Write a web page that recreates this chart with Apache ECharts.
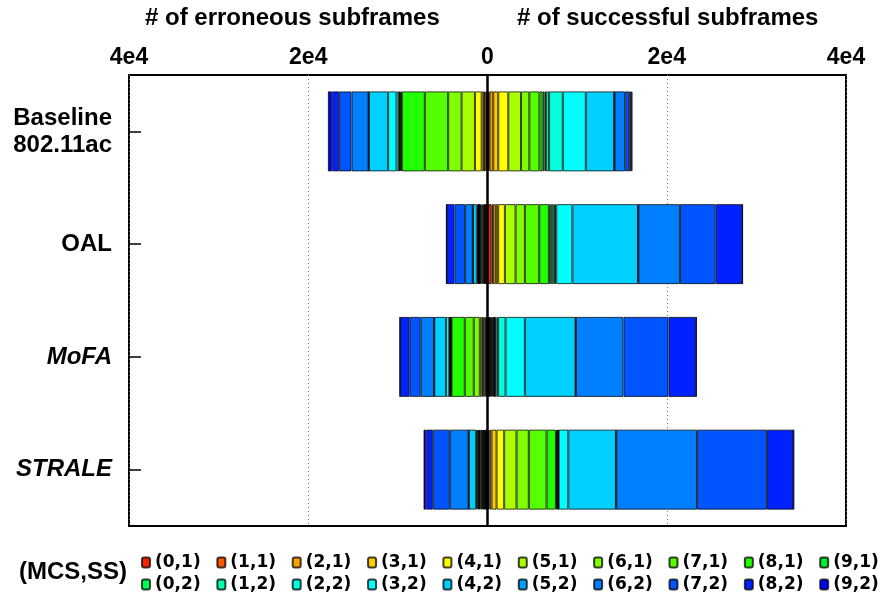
<!DOCTYPE html>
<html>
<head>
<meta charset="utf-8">
<script src="https://cdn.jsdelivr.net/npm/echarts@6/dist/echarts.min.js"></script>
<style>
html,body{margin:0;padding:0;background:#fff;}
#c{width:882px;height:602px;}
</style>
</head>
<body>
<div id="c"></div>
<script>
// ---- data ----
var categories = ['Baseline\n802.11ac', 'OAL', 'MoFA', 'STRALE'];
var mcsNames = ['(0,1)','(1,1)','(2,1)','(3,1)','(4,1)','(5,1)','(6,1)','(7,1)','(8,1)','(9,1)',
                '(0,2)','(1,2)','(2,2)','(3,2)','(4,2)','(5,2)','(6,2)','(7,2)','(8,2)','(9,2)'];
var xTicks = [-40000, -20000, 0, 20000, 40000];
// erroneous subframes per (MCS,SS), in the order of mcsNames
var baselineErr = [90,130,170,260,750,1490,1500,2600,2570,110,110,80,290,940,2150,30,1900,1380,780,480];
var oalErr      = [80,70,70,80,60,100,100,150,150,50,50,50,50,130,430,30,850,1190,880,30];
var mofaErr     = [100,100,120,170,150,220,670,1000,1490,60,60,60,60,370,1310,30,1480,1230,1080,40];
var straleErr   = [60,60,70,70,80,80,80,110,170,90,80,80,110,130,810,30,2090,1900,740,300];
// successful subframes per (MCS,SS)
var baselineOk  = [110,110,420,560,1120,1420,930,1120,360,220,170,330,1530,2570,3160,40,1190,450,220,150];
var oalOk       = [450,180,300,260,750,1190,1040,1600,1080,220,260,200,150,1790,7320,40,4650,3980,2980,40];
var mofaOk      = [60,60,70,80,100,110,110,100,80,45,170,200,830,2150,5660,40,5310,5020,3090,40];
var straleOk    = [100,120,230,560,850,1380,1370,1980,1040,110,80,70,50,1070,5320,40,9000,7810,2970,40];

// ---- styles ----
var colors = ['#ff2000','#ff5500','#ffa000','#ffcc00','#ffff00','#aaff00','#80ff00','#55ff00','#22ff00','#00ee30',
              '#00ff55','#00ffaa','#00ffdd','#00ffff','#00d0ff','#00a0ff','#0080ff','#0055ff','#0022ff','#0000ff'];
var FONT = '"Liberation Sans", Arial, Helvetica, sans-serif';
var WIDE = '"DejaVu Sans", Verdana, sans-serif';

var errRows = [baselineErr, oalErr, mofaErr, straleErr];
var okRows = [baselineOk, oalOk, mofaOk, straleOk];

var series = [];
mcsNames.forEach(function (name, i) {
  var common = {
    type: 'bar', name: name, stack: 'all', barWidth: 80,
    itemStyle: { color: colors[i], borderColor: 'rgba(0,0,0,0.75)', borderWidth: 1 },
    emphasis: { disabled: true }
  };
  series.push(Object.assign({}, common, { data: okRows.map(function (r) { return r[i]; }) }));
  series.push(Object.assign({}, common, { data: errRows.map(function (r) { return -r[i]; }) }));
});
series[0].markLine = {
  silent: true, symbol: 'none', animation: false,
  label: { show: false },
  lineStyle: { color: '#000', width: 2.5, type: 'solid' },
  data: [{ xAxis: 0 }]
};

var legendText = { fontFamily: WIDE, fontWeight: 'bold', fontSize: 17, color: '#000' };
var legendCommon = { left: 141, width: 780, orient: 'horizontal', itemWidth: 8, itemHeight: 10, itemGap: 15.7,
                     textStyle: legendText, selectedMode: false, padding: 0 };
var chart = echarts.init(document.getElementById('c'), null, { renderer: 'canvas' });
chart.setOption({
  backgroundColor: '#fff',
  animation: false,
  grid: { left: 129, right: 36, top: 75, bottom: 76, show: true, borderColor: '#000', borderWidth: 2, backgroundColor: 'transparent' },
  xAxis: {
    type: 'value', position: 'top', min: xTicks[0], max: xTicks[xTicks.length - 1], interval: 20000,
    axisLine: { show: false }, axisTick: { show: false },
    splitLine: { show: true, lineStyle: { color: '#777', type: [1, 3], width: 1 } },
    axisLabel: {
      margin: 6, fontFamily: FONT, fontWeight: 'bold', fontSize: 23, color: '#000',
      formatter: function (v) { return v === 0 ? '0' : (Math.abs(v) / 10000) + 'e4'; }
    }
  },
  yAxis: {
    type: 'category', inverse: true, data: categories,
    axisLine: { show: false, onZero: false },
    axisTick: { show: true, inside: true, length: 12, alignWithLabel: true, lineStyle: { color: '#000', width: 1.5 } },
    axisLabel: {
      margin: 17, align: 'right',
      formatter: function (v) {
        var it = (v === 'MoFA' || v === 'STRALE');
        return v.split('\n').map(function (s) { return '{' + (it ? 'i' : 'n') + '|' + s + '}'; }).join('\n');
      },
      rich: {
        n: { fontFamily: FONT, fontWeight: 'bold', fontSize: 24, color: '#000', lineHeight: 27 },
        i: { fontFamily: FONT, fontWeight: 'bold', fontStyle: 'italic', fontSize: 24, color: '#000', lineHeight: 27 }
      }
    }
  },
  legend: [
    Object.assign({ data: mcsNames.slice(0, 10), top: 554 }, legendCommon),
    Object.assign({ data: mcsNames.slice(10), top: 576 }, legendCommon)
  ],
  graphic: [
    { type: 'text', left: 145, top: 6, style: { text: '# of erroneous subframes', font: 'bold 24px ' + FONT, fill: '#000' } },
    { type: 'text', left: 517, top: 6, style: { text: '# of successful subframes', font: 'bold 24px ' + FONT, fill: '#000' } },
    { type: 'text', left: 19, top: 560, style: { text: '(MCS,SS)', font: 'bold 24px ' + FONT, fill: '#000' } }
  ],
  series: series
});
</script>
</body>
</html>
